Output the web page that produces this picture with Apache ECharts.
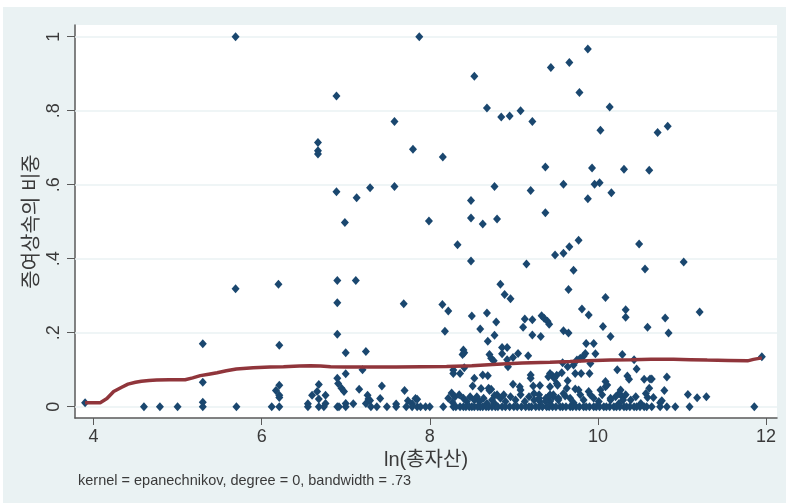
<!DOCTYPE html>
<html>
<head>
<meta charset="utf-8">
<script src="https://cdn.jsdelivr.net/npm/echarts@6/dist/echarts.min.js"></script>
<style>
  html, body { margin: 0; padding: 0; background: #ffffff; }
  #chart { width: 786px; height: 503px; }
</style>
</head>
<body>
<div id="chart"></div>
<script>
// Scatter of share vs ln(total assets), with a kernel-weighted local polynomial smooth.
const xTicks = [4, 6, 8, 10, 12];
const yTicks = [0, 0.2, 0.4, 0.6, 0.8, 1];

// Observations with share >= 0.3
const upperPoints = [
  [5.69,1.0],[7.875,1.0],[9.88,0.967],[9.66,0.93],[9.44,0.917],[8.53,0.893],[9.78,0.849],
  [6.89,0.84],[8.68,0.807],[10.14,0.81],[9.08,0.80],[8.85,0.783],[8.95,0.786],[9.22,0.771],
  [7.58,0.771],[10.83,0.758],[10.71,0.741],[10.03,0.747],[6.67,0.714],[6.67,0.692],[6.67,0.683],
  [7.80,0.696],[8.155,0.675],[9.375,0.648],[10.31,0.642],[9.93,0.645],[10.61,0.639],[9.59,0.601],
  [9.96,0.601],[10.02,0.605],[8.77,0.595],[7.58,0.595],[7.29,0.592],[6.89,0.581],[9.20,0.584],
  [10.16,0.578],[7.13,0.565],[9.88,0.562],[8.49,0.557],[9.375,0.524],[8.49,0.51],[8.80,0.507],
  [8.63,0.494],[7.99,0.502],[6.99,0.498],[9.77,0.45],[9.66,0.432],[8.33,0.438],[10.49,0.44],
  [9.59,0.415],[9.49,0.41],[8.49,0.394],[11.02,0.391],[9.15,0.386],[9.71,0.369],[10.56,0.372],
  [5.69,0.319],[9.65,0.317],[6.20,0.331],[8.84,0.331],[6.90,0.341],[7.12,0.341],[8.89,0.303],
  [8.96,0.292],[10.09,0.295]
];

// Observations with share between 0.1 and 0.3
const midPoints = [
  [6.90,0.281],[7.69,0.278],[8.15,0.276],[8.22,0.259],[11.21,0.256],[9.81,0.264],[10.33,0.262],
  [8.68,0.253],[8.50,0.245],[9.89,0.248],[10.33,0.242],[9.33,0.246],[9.36,0.239],[9.40,0.231],
  [9.42,0.223],[9.13,0.237],[9.22,0.235],[10.80,0.24],[8.79,0.229],[10.06,0.217],[10.59,0.215],
  [9.11,0.215],[8.60,0.21],[8.18,0.204],[9.59,0.205],[9.65,0.199],[10.84,0.199],[6.90,0.196],
  [9.22,0.194],[9.32,0.19],[10.15,0.19],[8.77,0.193],[8.69,0.177],[5.30,0.17],[6.21,0.166],
  [9.86,0.171],[9.95,0.171],[8.86,0.16],[8.92,0.16],[9.05,0.144],[8.99,0.133],[8.92,0.127],
  [9.17,0.138],[8.40,0.153],[8.41,0.146],[8.39,0.141],[8.71,0.141],[8.73,0.131],[8.76,0.124],
  [8.86,0.143],[7.24,0.149],[7.0,0.146],[9.97,0.143],[9.85,0.144],[9.83,0.137],[9.79,0.131],
  [9.75,0.126],[10.29,0.141],[10.43,0.127],[9.71,0.113],[9.64,0.108],[9.58,0.119],[9.91,0.117],
  [10.23,0.10],[10.46,0.102],[7.20,0.10],[8.93,0.108],[8.41,0.105],[11.95,0.135]
];

// Observations with share between 0 and 0.1
const lowPoints = [
  [3.90,0.011],[5.30,0.066],[5.30,0.012],[6.21,0.058],[6.17,0.044],[6.21,0.031],[6.21,0.025],
  [6.55,0.008],[6.60,0.031],[6.66,0.041],[6.68,0.06],[6.68,0.021],[6.76,0.031],[6.76,0.009],
  [6.90,0.077],[6.91,0.063],[6.95,0.05],[6.98,0.041],[7.0,0.089],[7.0,0.009],[7.09,0.008],
  [7.16,0.047],[7.26,0.031],[7.27,0.021],[7.24,0.009],[7.43,0.056],[7.41,0.022],[7.29,0.017],
  [7.60,0.007],[7.70,0.044],[7.74,0.016],[7.79,0.008],[7.83,0.022],[7.85,0.02],[8.28,0.099],
  [8.36,0.09],[8.28,0.09],[8.53,0.077],[8.63,0.086],[8.69,0.084],[8.51,0.056],[8.61,0.049],
  [8.70,0.05],[8.71,0.044],[8.73,0.047],[8.88,0.032],[8.80,0.032],[8.77,0.03],[8.99,0.061],
  [9.07,0.054],[9.08,0.045],[9.20,0.086],[9.20,0.077],[9.31,0.057],[9.43,0.09],[9.46,0.084],
  [9.51,0.085],[9.48,0.077],[9.41,0.081],[9.57,0.092],[9.51,0.063],[9.52,0.058],[8.26,0.037],
  [8.22,0.023],[9.73,0.09],[9.80,0.09],[9.90,0.09],[9.64,0.07],[10.35,0.083],[10.37,0.074],
  [10.55,0.074],[10.62,0.075],[10.09,0.068],[10.11,0.059],[10.03,0.045],[9.73,0.048],[9.77,0.045],
  [10.27,0.045],[10.25,0.036],[10.61,0.05],[10.82,0.08],[10.64,0.075],[10.79,0.044],[11.07,0.033],
  [11.18,0.024],[11.29,0.027],[10.59,0.025],[10.66,0.025],[10.74,0.011],[10.76,0.016],[9.23,0.056],
  [9.47,0.027],[9.41,0.027],[9.61,0.029],[9.91,0.032],[10.15,0.023],[10.29,0.027],[10.30,0.018],
  [8.27,0.012],[8.30,0.027],[8.35,0.032],[8.40,0.023],[8.44,0.014],[8.48,0.027],[8.53,0.018],
  [8.56,0.027],[8.59,0.014],[8.64,0.023],[8.68,0.009],[8.74,0.018],[8.77,0.009],[8.84,0.023],
  [8.90,0.014],[8.96,0.027],[9.02,0.018],[9.08,0.032],[9.13,0.014],[9.18,0.027],[9.24,0.018],
  [9.30,0.032],[9.31,0.014],[9.38,0.023],[9.43,0.014],[9.47,0.032],[9.53,0.023],[9.24,0.036],
  [9.30,0.023],[9.38,0.014],[9.43,0.032],[9.53,0.018],[9.59,0.036],[9.67,0.023],[9.71,0.011],
  [9.79,0.032],[9.83,0.018],[9.89,0.041],[9.95,0.023],[10.01,0.014],[10.05,0.032],[10.09,0.054],
  [10.15,0.018],[10.21,0.027],[10.25,0.009],[10.33,0.032],[10.39,0.018],[10.45,0.027],[10.51,0.009],
  [10.57,0.036],[9.63,0.05],[9.43,0.054]
];

// Observations with a share of exactly zero (x only)
const zeroX = [
  4.60,4.79,5.00,5.30,5.70,6.12,6.21,6.55,6.68,6.74,6.90,6.92,7.00,7.30,7.37,7.49,7.60,7.72,
  7.79,7.85,7.89,7.95,8.00,8.16,8.28,8.31,8.36,8.40,8.43,8.47,8.50,8.53,8.57,8.60,8.63,8.67,
  8.70,8.74,8.78,8.81,8.86,8.90,8.95,9.00,9.04,9.09,9.14,9.18,9.21,9.26,9.30,9.34,9.39,9.42,
  9.46,9.50,9.55,9.58,9.62,9.67,9.70,9.74,9.78,9.83,9.86,9.90,9.95,9.98,10.02,10.07,10.10,
  10.14,10.19,10.22,10.26,10.31,10.34,10.38,10.43,10.46,10.50,10.55,10.58,10.64,10.74,10.82,
  10.92,11.09,11.86
];

// Local polynomial smooth (epanechnikov kernel, degree 0, bandwidth .73)
const smoothX = [3.90,4.08,4.16,4.24,4.33,4.41,4.50,4.57,4.66,4.75,4.90,5.09,5.18,5.27,5.37,5.47,
  5.58,5.70,5.90,6.10,6.26,6.45,6.58,6.70,6.82,7.0,7.3,7.6,7.9,8.2,8.5,8.8,9.1,9.43,9.67,9.87,
  10.15,10.40,10.63,10.90,11.10,11.30,11.55,11.78,11.85,11.95];
const smoothY = [0.011,0.011,0.022,0.041,0.052,0.061,0.066,0.069,0.071,0.072,0.073,0.073,0.078,
  0.084,0.088,0.092,0.097,0.102,0.105,0.107,0.108,0.110,0.111,0.110,0.108,0.107,0.107,0.107,
  0.108,0.109,0.111,0.115,0.118,0.120,0.122,0.124,0.126,0.127,0.128,0.128,0.127,0.126,0.125,
  0.124,0.128,0.132];

const scatterData = upperPoints.concat(midPoints, lowPoints, zeroX.map(x => [x, 0]));
const smoothData = smoothX.map((x, i) => [x, smoothY[i]]);

const latin = "'Liberation Sans Narrow', 'Liberation Sans', Arial, sans-serif";
const korean = "'Liberation Sans Narrow', 'Liberation Sans', 'Noto Sans CJK KR', sans-serif";
const textColor = '#3a3a3a';
const axisColor = '#5a5a5a';

const fmtY = v => {
  if (v === 0) return '0';
  if (v === 1) return '1';
  return ('' + Math.round(v * 10) / 10).replace(/^0/, '');
};

const chart = echarts.init(document.getElementById('chart'), null, { renderer: 'canvas' });
chart.setOption({
  backgroundColor: '#EAF2F3',
  animation: false,
  graphic: [
    { type: 'rect', shape: { x: 0, y: 0, width: 786, height: 7 }, style: { fill: '#ffffff' }, z: -10 },
    { type: 'rect', shape: { x: 0, y: 0, width: 3, height: 503 }, style: { fill: '#ffffff' }, z: -10 },
    {
      type: 'text', left: 78, top: 473,
      style: { text: 'kernel = epanechnikov, degree = 0, bandwidth = .73',
               font: '14.5px ' + latin, fill: textColor }
    }
  ],
  grid: {
    left: 75, right: 9, top: 25, bottom: 85,
    show: true, backgroundColor: '#ffffff', borderWidth: 0
  },
  xAxis: {
    type: 'value', min: 3.78, max: 12.13,
    name: 'ln(총자산)', nameLocation: 'middle', nameGap: 31,
    nameTextStyle: { fontSize: 20, fontFamily: korean, color: textColor },
    axisLine: { show: true, onZero: false, lineStyle: { color: axisColor, width: 1.5 } },
    axisTick: { show: true, customValues: xTicks, length: 7, lineStyle: { color: axisColor, width: 1 } },
    axisLabel: { customValues: xTicks, margin: 10, fontSize: 18, fontFamily: latin, color: textColor },
    splitLine: { show: false }
  },
  yAxis: {
    type: 'value', min: -0.0305, max: 1.0316,
    name: '증여상속의 비중', nameLocation: 'middle', nameGap: 33, nameRotate: 90,
    nameMoveOverlap: false,
    nameTextStyle: { fontSize: 20, fontFamily: korean, color: textColor },
    axisLine: { show: true, onZero: false, lineStyle: { color: axisColor, width: 1.5 } },
    axisTick: { show: true, customValues: yTicks, length: 8, lineStyle: { color: axisColor, width: 1 } },
    axisLabel: { customValues: yTicks, rotate: 90, margin: 12, fontSize: 18, fontFamily: latin,
                 color: textColor, formatter: fmtY },
    splitLine: { show: false }
  },
  series: [
    {
      // horizontal grid lines, kept beneath the markers
      type: 'scatter',
      data: [],
      silent: true,
      z: 1,
      markLine: {
        z: 1,
        silent: true, symbol: 'none', label: { show: false },
        lineStyle: { color: '#EAF2F3', width: 1.5, type: 'solid' },
        data: yTicks.map(v => ({ yAxis: v }))
      }
    },
    {
      type: 'scatter',
      data: scatterData,
      symbol: 'diamond',
      symbolSize: [8, 9],
      itemStyle: { color: '#1A476F', opacity: 1 },
      z: 3
    },
    {
      type: 'line',
      data: smoothData,
      showSymbol: false,
      smooth: false,
      lineStyle: { color: '#90353B', width: 3.5 },
      z: 4
    }
  ]
});
</script>
</body>
</html>
